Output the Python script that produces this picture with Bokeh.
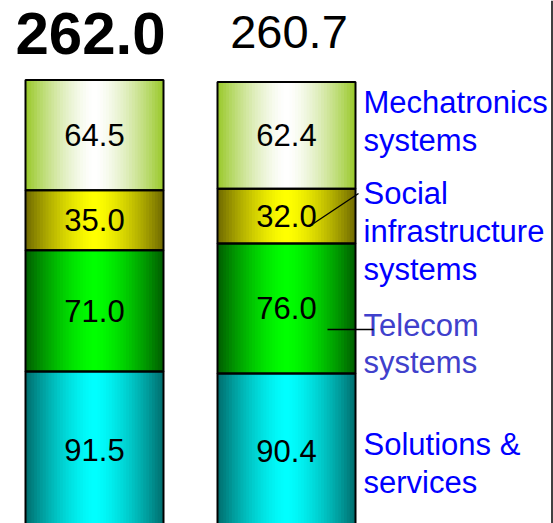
import numpy as np
from bokeh.plotting import figure
from bokeh.models import Span, ColumnDataSource
from bokeh.core.properties import value
from bokeh.embed import file_html
from bokeh.resources import INLINE

# ---- data ----
segments = ["Solutions &\nservices", "Telecom\nsystems",
            "Social\ninfrastructure\nsystems", "Mechatronics\nsystems"]
bar_a = [91.5, 71.0, 35.0, 64.5]
bar_b = [90.4, 76.0, 32.0, 62.4]
totals = ["262.0", "260.7"]
total_values = [262.0, 260.7]

# ---- styles ----
edge_cols = ["#006C6C", "#005C00", "#6E6800", "#98C828"]
center_cols = ["#00FFFF", "#00FF00", "#FFFF00", "#FFFFFF"]
label_cols = ["#0000FF", "#4040CC", "#0000FF", "#0000FF"]
label_dy = [12.5, 35.5, 15.5, -13.5]
FONT = "Liberation Sans"
BAR_W = 0.71875
N = 48
SX = 192.0   # px per x unit
SY = 1.71    # px per y unit
X0 = 1 - 94 / SX
Y1 = 527.5 / SY

def hex2rgb(h):
    h = h.lstrip("#")
    return np.array([int(h[i:i + 2], 16) for i in (0, 2, 4)], float)

def rgb2hex(c):
    return "#%02x%02x%02x" % tuple(int(round(v)) for v in c)

p = figure(width=553, height=523, x_range=(X0, X0 + 553 / SX),
           y_range=(Y1 - 523 / SY, Y1),
           min_border=0, toolbar_location=None, output_backend="svg")
p.xaxis.visible = False
p.yaxis.visible = False
p.grid.visible = False
p.outline_line_color = None
p.background_fill_color = "white"

bars = [bar_a, bar_b]
xs = [1, 2]
u = (np.arange(N) + 0.5) / N
t = 1 - np.abs(2 * u - 1) ** 1.5

strip = dict(left=[], right=[], bottom=[], top=[], color=[])
outl = dict(left=[], right=[], bottom=[], top=[])
vals = dict(x=[], y=[], text=[])
for xc, vals_bar in zip(xs, bars):
    cum = np.concatenate([[0], np.cumsum(vals_bar)])
    for k, v in enumerate(vals_bar):
        e = hex2rgb(edge_cols[k]); c = hex2rgb(center_cols[k])
        left0 = xc - BAR_W / 2
        for i in range(N):
            strip["left"].append(left0 + i * BAR_W / N)
            strip["right"].append(left0 + (i + 1.3) * BAR_W / N if i < N - 1 else left0 + BAR_W)
            strip["bottom"].append(cum[k]); strip["top"].append(cum[k + 1])
            strip["color"].append(rgb2hex(e + (c - e) * t[i]))
        outl["left"].append(left0); outl["right"].append(left0 + BAR_W)
        outl["bottom"].append(cum[k]); outl["top"].append(cum[k + 1])
        vals["x"].append(xc); vals["y"].append((cum[k] + cum[k + 1]) / 2)
        vals["text"].append("%.1f" % v)

p.quad(left="left", right="right", bottom="bottom", top="top", fill_color="color",
       line_color=None, source=ColumnDataSource(strip))
p.quad(left="left", right="right", bottom="bottom", top="top", fill_alpha=0,
       line_color="black", line_width=2, source=ColumnDataSource(outl))

p.text(x="x", y="y", text="text", source=ColumnDataSource(vals), text_align="center",
       text_baseline="middle", text_font=value(FONT), text_font_size="31px",
       text_color="black")

# totals
tot = ColumnDataSource(dict(x=xs, y=[max(total_values)] * 2, text=totals,
                            size=["60px", "47px"], style=["bold", "normal"],
                            xo=[-4, 2.5], yo=[-46.5, -47.5]))
p.text(x="x", y="y", text="text", source=tot, text_align="center",
       text_baseline="alphabetic", text_font=value(FONT), text_font_size="size",
       text_font_style="style", x_offset="xo", y_offset="yo", text_color="black")

# segment labels right of bar 2
cum_b = np.concatenate([[0], np.cumsum(bar_b)])
lab = ColumnDataSource(dict(x=[2 + BAR_W / 2] * 4,
                            y=[(cum_b[k] + cum_b[k + 1]) / 2 for k in range(4)],
                            text=segments, color=label_cols, dy=label_dy))
p.text(x="x", y="y", text="text", source=lab, text_align="left",
       text_baseline="middle", text_font=value(FONT), text_font_size="31px",
       text_color="color", x_offset=8, y_offset="dy", text_line_height=1.08)

# leader lines
def dx(px):
    return X0 + px / SX
def dy_(py):
    return Y1 - py / SY
p.segment(x0=[dx(358), dx(327)], y0=[dy_(193), dy_(329)],
          x1=[dx(313), dx(373)], y1=[dy_(223), dy_(329)],
          line_color="black", line_width=1.3)

p.add_layout(Span(location=dx(551.5), dimension="height",
                  line_color="black", line_width=1.5))

open("out.html", "w").write(file_html(p, INLINE))
